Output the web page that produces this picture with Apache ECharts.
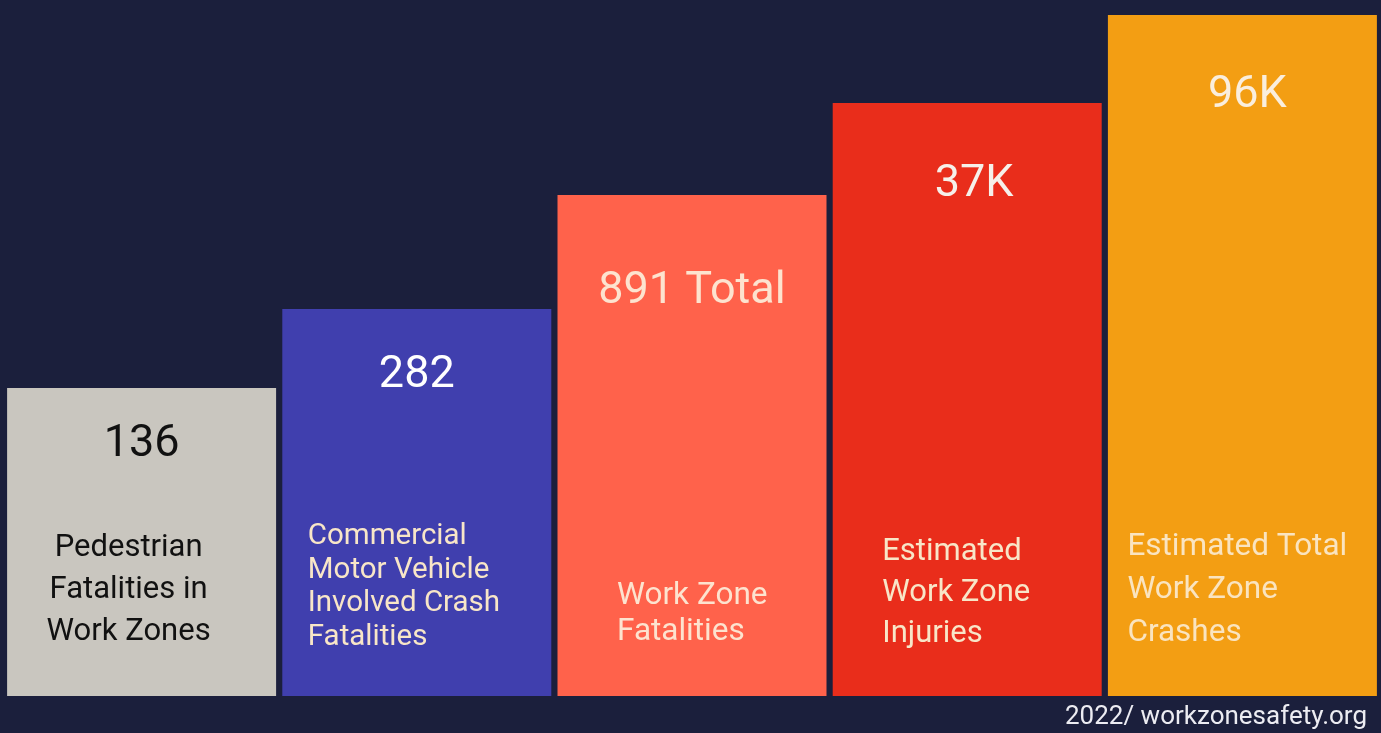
<!DOCTYPE html>
<html><head><meta charset="utf-8">
<script src="https://cdn.jsdelivr.net/npm/echarts@6/dist/echarts.min.js"></script>
<style>html,body{margin:0;padding:0;background:#1b1f3c;}#c{width:1381px;height:733px;}</style>
</head><body><div id="c"></div>
<script>
// Data
const categories = ['Pedestrian Fatalities in Work Zones','Commercial Motor Vehicle Involved Crash Fatalities','Work Zone Fatalities','Estimated Work Zone Injuries','Estimated Total Work Zone Crashes'];
const valueLabels = ['136','282','891 Total','37K','96K'];
const descLabels = ['Pedestrian\nFatalities in\nWork Zones','Commercial\nMotor Vehicle\nInvolved Crash\nFatalities','Work Zone\nFatalities','Estimated\nWork Zone\nInjuries','Estimated Total\nWork Zone\nCrashes'];
// visual bar heights (infographic, not to scale)
const barHeights = [308, 387, 501, 593, 681];
const sourceText = '2022/ workzonesafety.org';

// styles
const colors = ['#c9c6bf','#403fae','#ff624b','#e92d1b','#f39e13'];
const valueColors = ['#111111','#ffffff','#fde3cf','#f6f0ea','#faeedd'];
const descColors = ['#111111','#f8e6c8','#fde3cf','#f8e6c8','#fae4c0'];
const valueDist = [34, 44, 74, 59, 58];
const valueDx = [0, 0, 0, 7, 5];
const descAlign = ['center','left','left','left','left'];
const descDx = [-13, -109, -75, -85, -115];
const descDist = [43, 42, 46, 41, 41];
const descSize = [31, 29.5, 31.5, 31, 31.5];
const descLH = [42, 33.5, 36, 41, 43];

const chart = echarts.init(document.getElementById('c'));
chart.setOption({
  backgroundColor: '#1b1f3c',
  animation: false,
  textStyle: {fontFamily: 'Roboto'},
  title: {text: sourceText, right: 14, bottom: 3, padding: 0,
    textStyle: {color: '#ececf2', fontSize: 26, fontWeight: 'normal', fontFamily: 'Roboto'}},
  grid: {left: 4, right: 1, top: 0, bottom: 37},
  xAxis: {type: 'category', data: categories, show: false},
  yAxis: {type: 'value', min: 0, max: 696, show: false},
  series: [
    {type: 'bar', barWidth: 269, barGap: '-100%',
     data: barHeights.map((v, i) => ({value: v, itemStyle: {color: colors[i]},
       label: {show: true, position: 'insideTop', distance: valueDist[i], offset: [valueDx[i], 0],
         formatter: valueLabels[i], color: valueColors[i], fontSize: 45, lineHeight: 45, fontFamily: 'Roboto'}}))},
    {type: 'bar', barWidth: 269, barGap: '-100%', silent: true,
     data: barHeights.map((v, i) => ({value: v, itemStyle: {color: 'rgba(0,0,0,0)'},
       label: {show: true, position: 'insideBottom', distance: descDist[i], offset: [descDx[i], 0],
         align: descAlign[i], formatter: descLabels[i], color: descColors[i], fontSize: descSize[i],
         lineHeight: descLH[i], fontFamily: 'Roboto'}}))}
  ]
});
</script></body></html>
